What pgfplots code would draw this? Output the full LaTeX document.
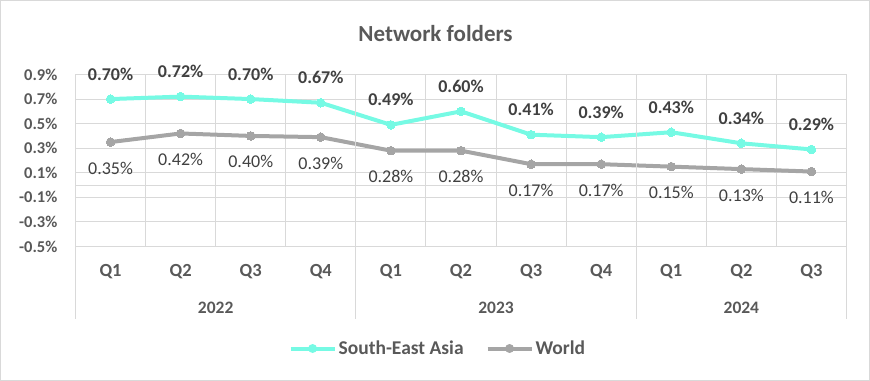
\documentclass[border=0pt]{standalone}
\usepackage{pgfplots}
\pgfplotsset{compat=1.18}
\usepackage{fontspec}
\setmainfont{Carlito}
\definecolor{sea}{RGB}{118,250,228}
\definecolor{wld}{RGB}{165,165,165}
\definecolor{grd}{RGB}{217,217,217}
\definecolor{txt}{RGB}{89,89,89}
\definecolor{lbl}{RGB}{64,64,64}
\begin{document}
\begin{tikzpicture}
\useasboundingbox (-75.5bp,-134.5bp) rectangle (794.5bp,246.5bp);
\draw[grd, line width=1bp] (-75bp,-134bp) rectangle (794bp,246bp);
\begin{axis}[
  scale only axis,
  width=771bp, height=172bp,
  xmin=-0.5, xmax=10.5,
  ymin=-0.5, ymax=0.9,
  clip=false,
  axis line style={draw=none},
  ytick={-0.5,-0.3,...,0.91},
  yticklabel={\pgfmathprintnumber[fixed,precision=1,fixed zerofill]{\tick}\%},
  /pgf/number format/assume math mode=true,
  yticklabel style={anchor=east, inner sep=0pt, xshift=-18bp, font=\fontsize{16.5bp}{19bp}\selectfont\bfseries, text=txt},
  ymajorgrids, grid style={grd, line width=1bp},
  major tick length=0pt, minor tick length=0pt,
  extra y ticks={0}, extra y tick labels={},
  extra y tick style={grid=major},
  xtick={0,...,10},
  xticklabels={Q1,Q2,Q3,Q4,Q1,Q2,Q3,Q4,Q1,Q2,Q3},
  xticklabel style={anchor=center, inner sep=0pt, yshift=-25bp, font=\fontsize{18.5bp}{21bp}\selectfont\bfseries, text=txt},
  minor xtick={-0.5,0.5,...,10.6},
  xminorgrids, minor grid style={grd, line width=1bp},
  legend columns=2,
  legend style={at={(0.47,-0.593)}, anchor=center, draw=none, fill=none,
    font=\fontsize{19.5bp}{22bp}\selectfont\bfseries, text=txt,
    /tikz/every even column/.append style={column sep=20bp}},
  legend image code/.code={
    \draw[#1, mark=none] (0bp,0bp) -- (44bp,0bp);
    \fill[#1, draw=none] (22bp,0bp) circle (4.5bp);
  },
]
\addplot[sea, line width=4bp, mark=*, mark size=4.3bp, mark options={draw=sea, fill=sea, line width=0pt},
  nodes near coords={\pgfmathprintnumber[fixed,precision=2,fixed zerofill]{\pgfplotspointmeta}\%},
  nodes near coords style={anchor=center, yshift=25bp, font=\fontsize{18bp}{21bp}\selectfont\bfseries, text=lbl},
  point meta=explicit]
  table[meta=m] {
x y m
0 0.70 0.70
1 0.72 0.72
2 0.70 0.70
3 0.67 0.67
4 0.49 0.49
5 0.60 0.60
6 0.41 0.41
7 0.39 0.39
8 0.43 0.43
9 0.34 0.34
10 0.29 0.29
};
\addlegendentry{South-East Asia}
\addplot[wld, line width=4bp, mark=*, mark size=4.3bp, mark options={draw=wld, fill=wld, line width=0pt},
  nodes near coords={\pgfmathprintnumber[fixed,precision=2,fixed zerofill]{\pgfplotspointmeta}\%},
  nodes near coords style={anchor=center, yshift=-26bp, font=\fontsize{18bp}{21bp}\selectfont, text=lbl},
  point meta=explicit]
  table[meta=m] {
x y m
0 0.35 0.35
1 0.42 0.42
2 0.40 0.40
3 0.39 0.39
4 0.28 0.28
5 0.28 0.28
6 0.17 0.17
7 0.17 0.17
8 0.15 0.15
9 0.13 0.13
10 0.11 0.11
};
\addlegendentry{World}
\foreach \xx in {-0.5,3.5,7.5,10.5}{
  \edef\tmp{\noexpand\draw[grd, line width=1bp] (axis cs:\xx,0.9) -- ([yshift=-72bp]axis cs:\xx,-0.5);}
  \tmp
}
\node[font=\fontsize{17.5bp}{20bp}\selectfont\bfseries, text=txt] at ([yshift=-61bp]axis cs:1.5,-0.5) {2022};
\node[font=\fontsize{17.5bp}{20bp}\selectfont\bfseries, text=txt] at ([yshift=-61bp]axis cs:5.5,-0.5) {2023};
\node[font=\fontsize{17.5bp}{20bp}\selectfont\bfseries, text=txt] at ([yshift=-61bp]axis cs:9,-0.5) {2024};
\node[font=\fontsize{23bp}{26bp}\selectfont\bfseries, text=txt] at ([yshift=41bp]axis description cs:0.467,1) {Network folders};
\end{axis}
\end{tikzpicture}
\end{document}
